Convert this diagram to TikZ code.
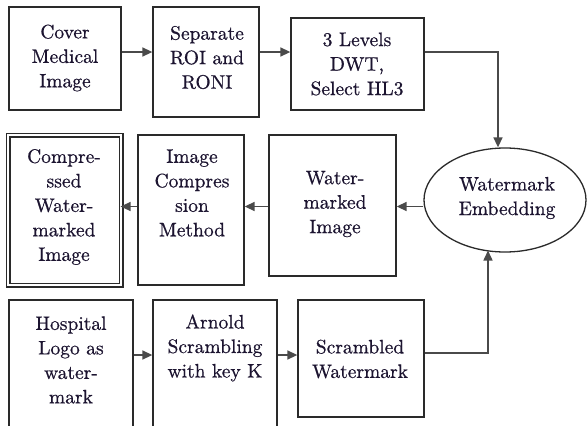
\documentclass[tikz,border=0pt]{standalone}
\usepackage{fontspec}
\newfontfamily\diagfont[FakeBold=0.6]{lmroman10-regular.otf}
\usetikzlibrary{arrows.meta,shapes.geometric}
\definecolor{boxline}{HTML}{2A2A2A}
\definecolor{connline}{HTML}{4A4A4A}
\definecolor{txtcol}{HTML}{1C1430}
\tikzset{
  box/.style={draw=boxline, line width=1.3pt, rectangle, inner sep=0pt},
  txt/.style={align=center, inner sep=0pt, text=txtcol, font=\diagfont\fontsize{19.5}{24.5}\selectfont},
  arr/.style={draw=connline, line width=1.5pt, -{Triangle[length=10pt,width=9pt]}},
}
\begin{document}
\begin{tikzpicture}[x=1pt,y=-1pt]
\useasboundingbox (0,0) rectangle (587,426);
\clip (0,0) rectangle (587,426);
\fill[white] (0,0) rectangle (587,426);
% row-level coordinates for connectors
\coordinate (r1) at (0,52);
\coordinate (r2) at (0,206.5);
\coordinate (r3) at (0,355);
\coordinate (c1) at (498,52);
\coordinate (c2) at (488,353);
\coordinate (c3) at (488,250.5);
% top row
\node[box, minimum width=112pt, minimum height=103pt] (cover) at (65,58.5) {};
\node[txt] (coverT) at (65,58) {\fontsize{19.5}{26}\selectfont Cover\\Medical\\Image};
\node[box, minimum width=106pt, minimum height=110pt] (sep) at (206,62) {};
\node[txt] (sepT) at (207,57.5) {Separate\\ROI and\\RONI};
\node[box, minimum width=133pt, minimum height=92pt] (dwt) at (357.5,64) {};
\node[txt] (dwtT) at (357,64) {3 Levels\\DWT,\\Select HL3};
% middle row
\node[box, double=white, double distance=2.6pt, line width=1.2pt, minimum width=113pt, minimum height=150pt] (comp) at (64.5,210) {};
\node[txt] (compT) at (64,207) {Compre-\\ssed\\Water-\\marked\\Image};
\node[box, minimum width=106pt, minimum height=150pt] (ic) at (191,210) {};
\node[txt] (icT) at (192,193) {Image\\Compres\\sion\\Method};
\node[box, minimum width=127pt, minimum height=141pt] (wm) at (332.5,205.5) {};
\node[txt] (wmT) at (335,204) {Water-\\marked\\Image};
\node[draw=boxline, line width=1.3pt, ellipse, inner sep=0pt, minimum width=162pt, minimum height=104pt] (emb) at (505,200) {};
\node[txt] (embT) at (507,198) {Watermark\\Embedding};
% bottom row (boxes run past the lower edge)
\node[box, minimum width=124pt, minimum height=150pt] (hosp) at (71,375) {};
\node[txt] (hospT) at (71,360) {Hospital\\Logo as\\water-\\mark};
\node[box, minimum width=124pt, minimum height=150pt] (arn) at (215,375) {};
\node[txt] (arnT) at (215,348) {Arnold\\Scrambling\\with key K};
\node[box, minimum width=126pt, minimum height=117pt] (scr) at (361,358.5) {};
\node[txt] (scrT) at (360,359) {Scrambled\\Watermark};
% connectors
\draw[arr] (cover.east |- r1) -- (sep.west |- r1);
\draw[arr] (sep.east |- r1) -- (dwt.west |- r1);
\draw[arr] (dwt.east |- r1) -- (c1) -- (c1 |- emb.north);
\draw[arr] (emb.west |- r2) -- (wm.east |- r2);
\draw[arr] (wm.west |- r2) -- (ic.east |- r2);
\draw[arr] (ic.west |- r2) -- ([xshift=-1pt]comp.east |- r2);
\draw[arr] (hosp.east |- r3) -- (arn.west |- r3);
\draw[arr] (arn.east |- r3) -- (scr.west |- r3);
\draw[arr] (scr.east |- c2) -- (c2) -- (c3);
\end{tikzpicture}
\end{document}
